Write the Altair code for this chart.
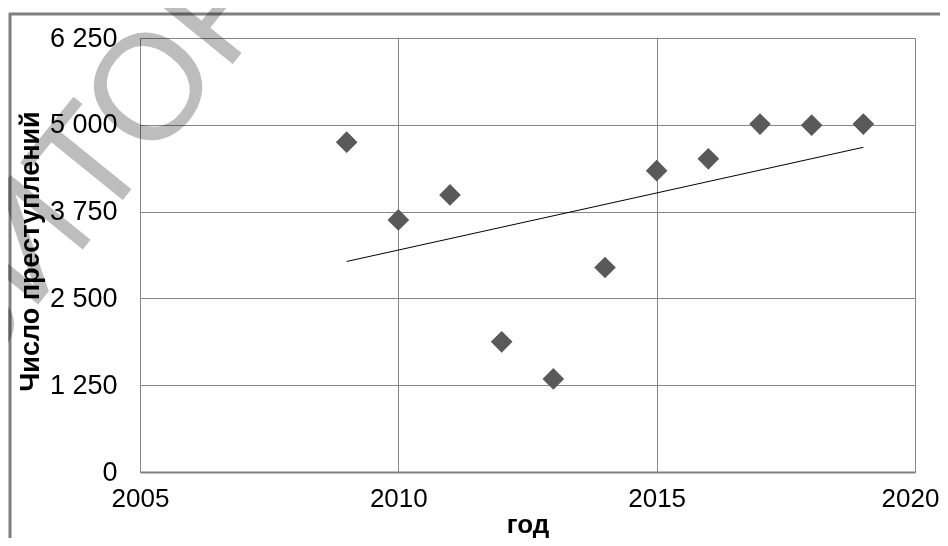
import altair as alt
import pandas as pd

years = [2009, 2010, 2011, 2012, 2013, 2014, 2015, 2016, 2017, 2018, 2019]
crimes = [4750, 3630, 3990, 1875, 1340, 2945, 4340, 4510, 5010, 4995, 5010]

x_ticks = [2005, 2010, 2015, 2020]
y_ticks = [0, 1250, 2500, 3750, 5000, 6250]

x_title = "год"
y_title = "Число преступлений"
watermark = "РЕПОЗИТОРИЙ"

df = pd.DataFrame({"year": years, "crimes": crimes})
one = pd.DataFrame({"a": [0]})

FONT = "Liberation Sans"
GRID = "#868686"

x_enc = alt.X(
    "year:Q",
    scale=alt.Scale(domain=[2005, 2020], nice=False, zero=False),
    axis=alt.Axis(
        values=x_ticks, format="d", grid=True, gridColor=GRID, gridWidth=1,
        ticks=False, labelPadding=13, labelFlush=False,
        labelOffset={"condition": {"test": "datum.value == 2020", "value": -5}, "value": 0},
        labelFont=FONT, labelFontSize=26, labelColor="black",
        domainColor="#808080", domainWidth=2,
        title=x_title, titleFont=FONT, titleFontSize=26, titleFontWeight="bold",
        titleColor="black", titleX=387.5, titleY=52, titleBaseline="middle",
        titleAlign="center",
    ),
)
y_enc = alt.Y(
    "crimes:Q",
    scale=alt.Scale(domain=[0, 6250], nice=False),
    axis=alt.Axis(
        values=y_ticks, grid=True, gridColor=GRID, gridWidth=1,
        ticks=False, labelPadding=23, labelFlush=False,
        labelExpr="replace(format(datum.value, ','), ',', ' ')",
        labelFont=FONT, labelFontSize=27, labelColor="black",
        domainColor=GRID, domainWidth=1,
        title=y_title, titleFont=FONT, titleFontSize=27, titleFontWeight="bold",
        titleColor="black", titleAngle=270, titleX=-110, titleY=213,
        titleAlign="center", titleBaseline="middle",
    ),
)

base = alt.Chart(df)
points = base.mark_point(
    shape="diamond", filled=True, color="#595959", size=470, opacity=1
).encode(x=x_enc, y=y_enc)

trend = base.transform_regression("year", "crimes").mark_line(
    color="black", strokeWidth=1
).encode(x="year:Q", y="crimes:Q")

frame_top = alt.Chart(one).mark_rule(color="#7f7f7f", strokeWidth=3).encode(
    x=alt.value(-131), x2=alt.value(820), y=alt.value(-24)
)
frame_left = alt.Chart(one).mark_rule(color="#7f7f7f", strokeWidth=3).encode(
    x=alt.value(-130), y=alt.value(-25), y2=alt.value(520)
)

wm = alt.Chart(one).mark_text(
    text=watermark, font=FONT, fontSize=150, color="#bdbdbd",
    angle=309, align="center", baseline="middle", blend="multiply"
).encode(x=alt.value(-110), y=alt.value(205))

chart = alt.layer(frame_top, frame_left, trend, points, wm).properties(
    width=775, height=434,
    autosize=alt.AutoSizeParams(type="none"),
    padding={"left": 132, "top": 30, "right": 25, "bottom": 66},
    background="white",
).configure_view(stroke=None)

chart.save("out.html", embed_options={"renderer": "svg", "actions": False})
